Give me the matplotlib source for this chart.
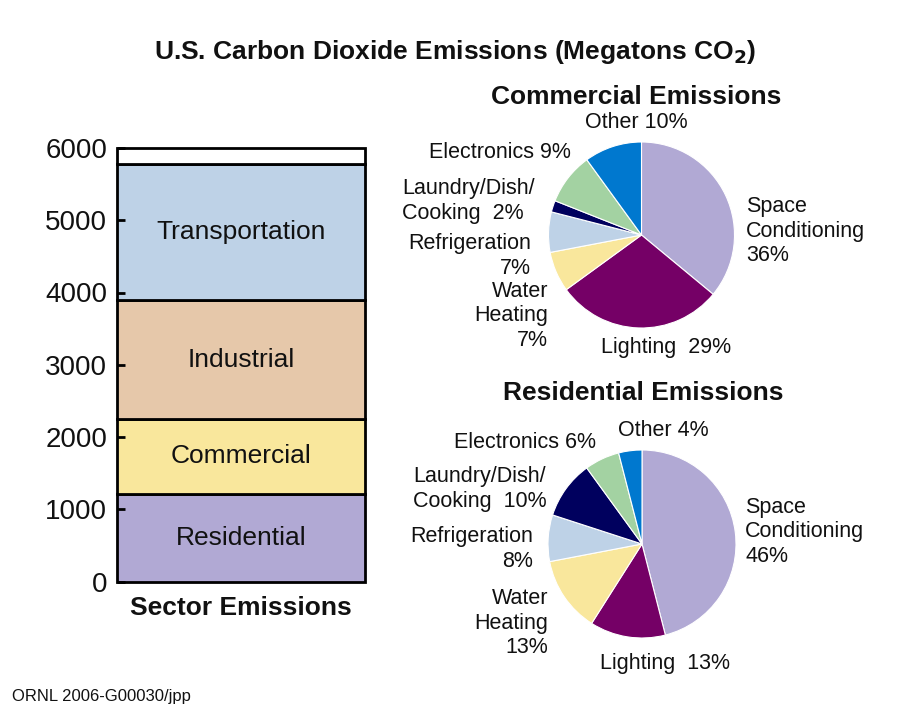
import matplotlib
matplotlib.use("Agg")
import matplotlib.pyplot as plt

plt.rcParams["font.family"] = ["Liberation Sans", "DejaVu Sans"]

W, H = 922, 708

# sector totals (megatons CO2), bottom to top
sectors = ["Residential", "Commercial", "Industrial", "Transportation", ""]
sector_values = [1217, 1030, 1650, 1875, 228]
sector_colors = ["#b1a9d4", "#f9e79c", "#e6c8aa", "#bed2e7", "#ffffff"]
yticks = [0, 1000, 2000, 3000, 4000, 5000, 6000]

# end-use shares, clockwise from 12 o'clock
end_uses = ["Space Conditioning", "Lighting", "Water Heating", "Refrigeration",
            "Laundry/Dish/Cooking", "Electronics", "Other"]
commercial_pct = [36, 29, 7, 7, 2, 9, 10]
residential_pct = [46, 13, 13, 8, 10, 6, 4]
pie_colors = ["#b1a9d4", "#750066", "#f9e79c", "#bed2e7", "#00005e", "#a3d2a2", "#0078cf"]

commercial_labels = ["Space\nConditioning\n36%", "Lighting  29%", "Water\nHeating\n7%",
                     "Refrigeration\n7%", "Laundry/Dish/\nCooking  2%", "Electronics 9%",
                     "Other 10%"]
residential_labels = ["Space\nConditioning\n46%", "Lighting  13%", "Water\nHeating\n13%",
                      "Refrigeration\n8%", "Laundry/Dish/\nCooking  10%", "Electronics 6%",
                      "Other 4%"]

# label anchors in pixels: (x, y, ha)
commercial_pos = [(746, 231, "left"), (601, 348, "left"), (548, 316, "right"),
                  (531, 256, "right"), (402, 201, "left"), (571, 153, "right"),
                  (636, 123, "center")]
residential_pos = [(745, 532, "left"), (600, 663, "left"), (548, 623, "right"),
                   (533, 549, "right"), (413, 489, "left"), (596, 443, "right"),
                   (663, 430, "center")]

TXT = "#111111"


def fx(x):
    return x / W


def fy(y):
    return 1 - y / H


fig = plt.figure(figsize=(W / 100, H / 100), dpi=100)
fig.patch.set_facecolor("white")

# stacked sector bar
ax = fig.add_axes([fx(117), fy(581.5), 248 / W, 433.5 / H])
bottom = 0
for name, val, col in zip(sectors, sector_values, sector_colors):
    ax.bar(0, val, bottom=bottom, width=1.0, color=col, edgecolor="black",
           linewidth=2, clip_on=False)
    if name:
        ax.text(0, bottom + val / 2, name, ha="center", va="center", fontsize=19, color=TXT)
    bottom += val
ax.set_xlim(-0.5, 0.5)
ax.set_ylim(0, 6000)
ax.set_yticks(yticks)
ax.set_xticks([])
for s in ax.spines.values():
    s.set_visible(False)
ax.tick_params(axis="y", direction="in", length=6, width=2, pad=7, labelsize=20,
               labelcolor=TXT)
ax.text(0.5, -0.062, "Sector Emissions", transform=ax.transAxes, ha="center",
        va="center", fontsize=19, fontweight="bold", color=TXT)


def draw_pie(cx, cy, r, values, labels, positions):
    pax = fig.add_axes([fx(cx - r), fy(cy + r), 2 * r / W, 2 * r / H])
    pax.pie(values, colors=pie_colors, startangle=90, counterclock=False,
            wedgeprops=dict(edgecolor="white", linewidth=0.8))
    pax.set_xlim(-1, 1)
    pax.set_ylim(-1, 1)
    pax.set_aspect("auto")
    for lab, (x, y, ha) in zip(labels, positions):
        fig.text(fx(x), fy(y), lab, ha=ha, va="center", fontsize=15.5, color=TXT,
                 linespacing=1.2, multialignment=ha)


draw_pie(641.5, 235, 93, commercial_pct, commercial_labels, commercial_pos)
draw_pie(642, 544, 94, residential_pct, residential_labels, residential_pos)

fig.text(fx(455), fy(52), r"U.S. Carbon Dioxide Emissions (Megatons CO$_\mathbf{2}$)",
         ha="center", va="center", fontsize=19, fontweight="bold", color=TXT)
fig.text(fx(636), fy(97), "Commercial Emissions", ha="center", va="center",
         fontsize=19, fontweight="bold", color=TXT)
fig.text(fx(643), fy(393), "Residential Emissions", ha="center", va="center",
         fontsize=19, fontweight="bold", color=TXT)
fig.text(fx(12), fy(697), "ORNL 2006-G00030/jpp", ha="left", va="center",
         fontsize=12, color=TXT)

fig.savefig("out.png", dpi=100)
